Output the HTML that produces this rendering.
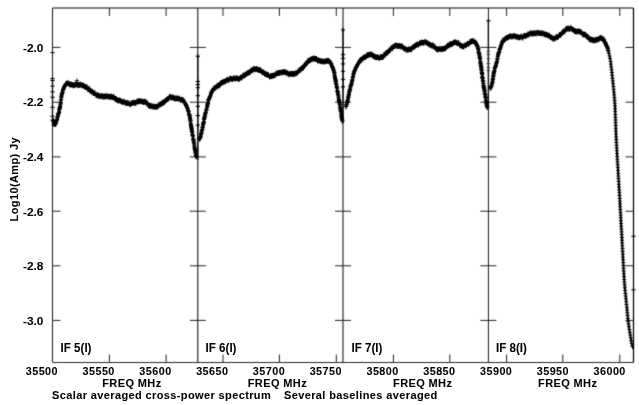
<!DOCTYPE html>
<html><head><meta charset="utf-8"><style>
html,body{margin:0;padding:0;background:#fff;width:639px;height:405px;overflow:hidden}
svg{display:block}
#w{will-change:transform;width:639px;height:405px}
text{font-family:"Liberation Sans", sans-serif;font-weight:bold;stroke:#000;stroke-width:0.05px}
</style></head><body><div id="w">
<svg width="639" height="405" viewBox="0 0 639 405">
<defs><filter id="bl" x="0" y="0" width="639" height="405" filterUnits="userSpaceOnUse" color-interpolation-filters="sRGB"><feConvolveMatrix order="3" kernelMatrix="1 3 1 3 20 3 1 3 1" divisor="36" edgeMode="duplicate"/></filter></defs>
<g filter="url(#bl)"><rect width="639" height="405" fill="#fff"/>
<g stroke="#202020" stroke-width="1" fill="none">
<line x1="52.5" y1="8.0" x2="52.5" y2="362.5" stroke="#181818"/>
<line x1="633.5" y1="8.0" x2="633.5" y2="362.5" stroke="#000" stroke-width="1.25"/>
<line x1="52.5" y1="8.0" x2="633.5" y2="8.0" stroke="#000"/>
<line x1="52.5" y1="362.5" x2="633.5" y2="362.5" stroke="#282828"/>
<line x1="197.8" y1="8.0" x2="197.8" y2="362.5" stroke="#000"/>
<line x1="343.0" y1="8.0" x2="343.0" y2="362.5" stroke="#000"/>
<line x1="488.4" y1="8.0" x2="488.4" y2="362.5" stroke="#181818"/>
<line x1="109.4" y1="8.0" x2="109.4" y2="16.0"/>
<line x1="109.4" y1="362.5" x2="109.4" y2="354.5"/>
<line x1="166.1" y1="8.0" x2="166.1" y2="16.0"/>
<line x1="166.1" y1="362.5" x2="166.1" y2="354.5"/>
<line x1="223.0" y1="8.0" x2="223.0" y2="16.0"/>
<line x1="223.0" y1="362.5" x2="223.0" y2="354.5"/>
<line x1="279.4" y1="8.0" x2="279.4" y2="16.0"/>
<line x1="279.4" y1="362.5" x2="279.4" y2="354.5"/>
<line x1="336.3" y1="8.0" x2="336.3" y2="16.0"/>
<line x1="336.3" y1="362.5" x2="336.3" y2="354.5"/>
<line x1="393.4" y1="8.0" x2="393.4" y2="16.0"/>
<line x1="393.4" y1="362.5" x2="393.4" y2="354.5"/>
<line x1="449.8" y1="8.0" x2="449.8" y2="16.0"/>
<line x1="449.8" y1="362.5" x2="449.8" y2="354.5"/>
<line x1="506.6" y1="8.0" x2="506.6" y2="16.0"/>
<line x1="506.6" y1="362.5" x2="506.6" y2="354.5"/>
<line x1="562.8" y1="8.0" x2="562.8" y2="16.0"/>
<line x1="562.8" y1="362.5" x2="562.8" y2="354.5"/>
<line x1="619.8" y1="8.0" x2="619.8" y2="16.0"/>
<line x1="619.8" y1="362.5" x2="619.8" y2="354.5"/>
<line x1="52.5" y1="47.4" x2="60.5" y2="47.4"/>
<line x1="633.5" y1="47.4" x2="625.5" y2="47.4"/>
<line x1="189.8" y1="47.4" x2="205.8" y2="47.4"/>
<line x1="335.0" y1="47.4" x2="351.0" y2="47.4"/>
<line x1="480.4" y1="47.4" x2="496.4" y2="47.4"/>
<line x1="52.5" y1="102.2" x2="60.5" y2="102.2"/>
<line x1="633.5" y1="102.2" x2="625.5" y2="102.2"/>
<line x1="189.8" y1="102.2" x2="205.8" y2="102.2"/>
<line x1="335.0" y1="102.2" x2="351.0" y2="102.2"/>
<line x1="480.4" y1="102.2" x2="496.4" y2="102.2"/>
<line x1="52.5" y1="156.9" x2="60.5" y2="156.9"/>
<line x1="633.5" y1="156.9" x2="625.5" y2="156.9"/>
<line x1="189.8" y1="156.9" x2="205.8" y2="156.9"/>
<line x1="335.0" y1="156.9" x2="351.0" y2="156.9"/>
<line x1="480.4" y1="156.9" x2="496.4" y2="156.9"/>
<line x1="52.5" y1="211.2" x2="60.5" y2="211.2"/>
<line x1="633.5" y1="211.2" x2="625.5" y2="211.2"/>
<line x1="189.8" y1="211.2" x2="205.8" y2="211.2"/>
<line x1="335.0" y1="211.2" x2="351.0" y2="211.2"/>
<line x1="480.4" y1="211.2" x2="496.4" y2="211.2"/>
<line x1="52.5" y1="265.8" x2="60.5" y2="265.8"/>
<line x1="633.5" y1="265.8" x2="625.5" y2="265.8"/>
<line x1="189.8" y1="265.8" x2="205.8" y2="265.8"/>
<line x1="335.0" y1="265.8" x2="351.0" y2="265.8"/>
<line x1="480.4" y1="265.8" x2="496.4" y2="265.8"/>
<line x1="52.5" y1="320.4" x2="60.5" y2="320.4"/>
<line x1="633.5" y1="320.4" x2="625.5" y2="320.4"/>
<line x1="189.8" y1="320.4" x2="205.8" y2="320.4"/>
<line x1="335.0" y1="320.4" x2="351.0" y2="320.4"/>
<line x1="480.4" y1="320.4" x2="496.4" y2="320.4"/>
</g>
<g stroke="#111" stroke-width="1.4" fill="none">
<line x1="52.5" y1="78" x2="52.5" y2="126"/>
<line x1="197.8" y1="56" x2="197.8" y2="160"/>
<line x1="343.0" y1="30" x2="343.0" y2="123"/>
<line x1="488.4" y1="20.5" x2="488.4" y2="109"/>
</g>
<polyline points="53.3,121.0 53.3,121.1 53.4,121.4 53.5,121.8 53.7,122.3 53.8,122.9 54.0,123.5 54.2,124.0" stroke="#000" stroke-width="2.2" fill="none" stroke-linejoin="round" stroke-linecap="round"/>
<polyline points="54.2,124.0 54.4,124.4 54.6,124.7 54.8,124.8 55.1,124.6 55.4,124.1 55.8,123.2" stroke="#000" stroke-width="3.3" fill="none" stroke-linejoin="round" stroke-linecap="round"/>
<polyline points="55.8,123.2 56.2,122.2 56.6,121.0 56.9,119.7 57.3,118.4 57.7,117.0 58.0,115.8 58.3,114.7 58.6,113.7 58.8,112.7 59.0,111.7 59.2,110.8 59.4,109.8 59.6,108.8 59.8,107.8 60.0,106.8 60.1,105.9 60.3,104.9 60.5,104.0 60.6,103.0 60.7,102.1 60.9,101.2 61.0,100.2 61.1,99.3 61.2,98.4 61.3,97.6 61.5,96.8 61.6,96.0 61.7,95.5 61.8,95.1 61.9,94.6 62.0,94.2 62.1,93.8 62.2,93.4 62.3,93.0 62.4,92.6 62.5,92.2 62.6,91.8 62.7,91.3 62.8,90.9 63.0,90.4 63.1,89.9 63.2,89.5 63.4,89.0 63.5,88.6 63.7,88.1 63.8,87.7" stroke="#000" stroke-width="2.2" fill="none" stroke-linejoin="round" stroke-linecap="round"/>
<polyline points="63.8,87.7 64.0,87.3 64.2,87.0 64.3,86.7 64.5,86.4 64.7,86.1 64.9,85.8 65.0,85.5 65.2,85.2 65.5,85.0 65.7,84.8 65.9,84.6 66.1,84.4 66.3,84.3 66.5,84.2 66.8,84.1 67.0,84.0 67.2,83.9 67.5,83.8 67.7,83.8 68.0,83.7 68.2,83.7 68.5,83.7 68.7,83.8 69.0,83.8 69.3,83.9 69.6,84.0 69.9,84.2 70.2,84.3 70.5,84.4 70.7,84.5 71.0,84.6 71.2,84.7 71.4,84.8 71.6,84.8 71.8,84.9 72.0,85.0 72.2,85.1 72.4,85.2 72.6,85.2 72.8,85.3 73.0,85.3 73.3,85.3 73.7,85.3 74.1,85.2 74.5,85.1 74.9,85.0 75.3,84.9 75.8,84.8 76.2,84.7 76.6,84.6 77.0,84.6 77.4,84.6 77.8,84.6 78.2,84.6 78.6,84.6 79.0,84.7 79.3,84.7 79.7,84.8 80.1,84.8 80.5,84.9 80.9,85.0 81.3,85.1 81.7,85.2 82.1,85.3 82.5,85.4 82.9,85.5 83.3,85.6 83.7,85.8 84.1,85.9 84.5,86.1 84.9,86.3 85.4,86.6 85.9,86.9 86.4,87.3 86.9,87.7 87.3,88.1 87.8,88.5 88.3,89.0 88.8,89.4 89.3,89.8 89.8,90.2 90.3,90.6 90.8,91.0 91.3,91.3 91.7,91.7 92.2,92.1 92.7,92.5 93.2,92.8 93.7,93.2 94.2,93.5 94.7,93.8 95.2,94.1 95.7,94.3 96.2,94.5 96.7,94.8 97.2,95.0 97.7,95.2 98.2,95.3 98.7,95.5 99.2,95.7 99.7,95.8 100.2,95.9 100.7,96.0 101.2,96.1 101.7,96.2 102.1,96.2 102.6,96.3 103.1,96.3 103.6,96.4 104.1,96.4 104.6,96.4 105.1,96.4 105.6,96.4 106.1,96.3 106.6,96.3 107.1,96.2 107.5,96.2 108.0,96.1 108.5,96.1 109.0,96.1 109.5,96.2 110.0,96.3 110.5,96.4 111.0,96.6 111.5,96.8 112.0,97.0 112.5,97.2 113.0,97.4 113.5,97.6 114.0,97.9 114.5,98.1 115.0,98.3 115.5,98.6 116.0,98.8 116.5,99.1 116.9,99.3 117.4,99.6 117.9,99.9 118.4,100.1 118.9,100.4 119.4,100.6 119.9,100.8 120.5,101.1 121.1,101.3 121.6,101.6 122.2,101.8 122.8,102.0 123.4,102.2 123.9,102.4 124.5,102.6 125.0,102.8 125.4,103.0 125.9,103.1 126.3,103.3 126.7,103.4 127.1,103.6 127.5,103.7 127.9,103.8 128.3,103.9 128.7,104.0 129.1,104.0 129.5,104.0 129.9,104.0 130.3,103.9 130.7,103.8 131.2,103.7 131.6,103.6 132.0,103.5 132.4,103.4 132.8,103.3 133.2,103.2 133.6,103.1 134.0,103.0 134.4,102.9 134.8,102.7 135.2,102.6 135.6,102.5 136.0,102.4 136.4,102.2 136.8,102.1 137.2,102.0 137.6,101.9 137.9,101.7 138.3,101.6 138.6,101.5 139.0,101.3 139.3,101.2 139.7,101.1 140.1,101.0 140.4,100.9 140.8,100.9 141.2,100.9 141.7,101.0 142.2,101.0 142.6,101.1 143.1,101.3 143.6,101.4 144.1,101.6 144.5,101.8 145.0,102.0 145.4,102.2 145.8,102.5 146.3,102.8 146.7,103.1 147.1,103.5 147.5,103.8 147.9,104.2 148.3,104.6 148.7,104.9 149.1,105.2 149.5,105.5 149.9,105.7 150.3,106.0 150.7,106.2 151.2,106.4 151.6,106.6 152.0,106.7 152.5,106.9 152.9,107.0 153.3,107.1 153.8,107.1 154.3,107.1 154.8,107.0 155.4,107.0 155.9,106.8 156.5,106.7 157.0,106.5 157.6,106.3 158.1,106.1 158.6,105.8 159.1,105.6 159.6,105.3 160.0,105.1 160.4,104.8 160.8,104.4 161.2,104.1 161.6,103.8 162.0,103.4 162.4,103.1 162.8,102.7 163.2,102.4 163.6,102.1 164.0,101.7 164.4,101.4 164.8,101.1 165.2,100.8 165.6,100.4 166.0,100.1 166.4,99.8 166.8,99.5 167.2,99.2 167.6,98.9 168.0,98.6 168.4,98.3 168.8,98.1 169.2,97.8 169.6,97.5 170.0,97.3 170.5,97.1 170.9,97.0 171.3,96.9 171.7,96.9 172.1,96.9 172.5,97.0 172.9,97.1 173.3,97.3 173.8,97.5 174.2,97.6 174.6,97.8 175.0,98.0 175.4,98.1 175.8,98.2 176.2,98.3 176.6,98.4 177.1,98.5 177.5,98.7 177.9,98.8 178.3,98.9 178.7,99.0 179.1,99.2 179.5,99.3 179.9,99.5 180.3,99.6 180.7,99.8 181.2,99.9 181.6,100.1 182.0,100.3 182.4,100.5 182.7,100.7 183.1,100.9 183.4,101.2 183.7,101.5 183.9,101.8 184.2,102.1 184.4,102.4 184.6,102.7 184.8,103.1 185.0,103.4 185.2,103.8 185.4,104.1 185.6,104.5 185.8,104.9 186.0,105.4 186.2,105.8 186.5,106.3 186.7,106.8" stroke="#000" stroke-width="3.3" fill="none" stroke-linejoin="round" stroke-linecap="round"/>
<polyline points="186.7,106.8 186.8,107.3 187.0,107.8 187.2,108.3 187.4,108.8 187.6,109.3 187.8,109.8 188.0,110.4 188.2,110.9 188.4,111.4 188.6,112.0 188.7,112.5 188.9,113.1 189.1,113.6 189.2,114.2 189.4,114.8 189.6,115.5 189.7,116.2 189.8,116.9 190.0,117.7 190.1,118.4 190.2,119.2 190.3,119.9 190.4,120.7 190.5,121.5 190.6,122.2 190.7,122.9 190.8,123.7 190.9,124.4 191.0,125.1 191.1,125.9 191.2,126.6 191.3,127.4 191.4,128.1 191.5,128.8 191.6,129.6 191.7,130.4 191.9,131.2 192.0,132.0 192.2,132.9 192.3,133.7 192.5,134.5 192.6,135.3 192.8,136.2 192.9,137.0 193.1,137.9 193.3,138.8 193.4,139.8 193.6,140.8 193.7,141.8 193.9,142.7 194.1,143.7 194.2,144.7 194.4,145.7 194.5,146.7 194.7,147.7 194.9,148.8 195.1,150.0 195.3,151.3 195.5,152.6 195.7,153.8 195.9,155.0 196.1,156.0 196.2,156.8 196.3,157.3 196.3,157.5" stroke="#000" stroke-width="2.2" fill="none" stroke-linejoin="round" stroke-linecap="round"/>
<path d="M51.2 120.8h4.2M53.3 117.9v5.8M51.6 121.9h4.2M53.7 119.0v5.8M52.0 123.9h4.2M54.1 121.0v5.8M52.7 124.2h4.2M54.8 121.3v5.8M53.5 123.7h4.2M55.6 120.8v5.8M54.0 122.2h4.2M56.1 119.3v5.8M54.5 120.4h4.2M56.6 117.5v5.8M54.9 119.7h4.2M57.0 116.8v5.8M55.2 117.7h4.2M57.3 114.8v5.8M55.6 116.9h4.2M57.7 114.0v5.8M56.0 115.0h4.2M58.1 112.1v5.8M56.3 113.7h4.2M58.4 110.8v5.8M56.7 112.8h4.2M58.8 109.9v5.8M57.0 112.0h4.2M59.1 109.1v5.8M57.2 109.6h4.2M59.3 106.7v5.8M57.5 108.4h4.2M59.6 105.5v5.8M57.8 107.6h4.2M59.9 104.7v5.8M58.0 106.7h4.2M60.1 103.8v5.8M58.2 104.8h4.2M60.3 101.9v5.8M58.5 103.1h4.2M60.6 100.2v5.8M58.7 102.6h4.2M60.8 99.7v5.8M58.8 99.9h4.2M60.9 97.0v5.8M59.0 99.6h4.2M61.1 96.7v5.8M59.2 97.4h4.2M61.3 94.5v5.8M59.4 95.9h4.2M61.5 93.0v5.8M59.7 94.4h4.2M61.8 91.5v5.8M60.0 93.3h4.2M62.1 90.4v5.8M60.4 92.7h4.2M62.5 89.8v5.8M60.7 90.5h4.2M62.8 87.6v5.8M61.1 89.7h4.2M63.2 86.8v5.8M61.5 88.4h4.2M63.6 85.5v5.8M62.1 86.8h4.2M64.2 83.9v5.8M62.8 85.8h4.2M64.9 82.9v5.8M63.7 84.1h4.2M65.8 81.2v5.8M64.9 83.3h4.2M67.0 80.4v5.8M66.3 83.3h4.2M68.4 80.4v5.8M67.6 84.3h4.2M69.7 81.4v5.8M68.9 84.5h4.2M71.0 81.6v5.8M70.2 84.9h4.2M72.3 82.0v5.8M71.6 85.4h4.2M73.7 82.5v5.8M72.9 84.9h4.2M75.0 82.0v5.8M74.3 84.4h4.2M76.4 81.5v5.8M75.7 85.0h4.2M77.8 82.1v5.8M77.1 85.0h4.2M79.2 82.1v5.8M78.5 84.6h4.2M80.6 81.7v5.8M79.9 85.3h4.2M82.0 82.4v5.8M81.2 85.6h4.2M83.3 82.7v5.8M82.5 86.7h4.2M84.6 83.8v5.8M83.7 87.2h4.2M85.8 84.3v5.8M84.8 87.4h4.2M86.9 84.5v5.8M85.9 89.3h4.2M88.0 86.4v5.8M86.9 89.0h4.2M89.0 86.1v5.8M88.0 90.3h4.2M90.1 87.4v5.8M89.1 91.7h4.2M91.2 88.8v5.8M90.2 91.7h4.2M92.3 88.8v5.8M91.3 93.0h4.2M93.4 90.1v5.8M92.5 93.1h4.2M94.6 90.2v5.8M93.8 94.6h4.2M95.9 91.7v5.8M95.0 95.3h4.2M97.1 92.4v5.8M96.3 95.5h4.2M98.4 92.6v5.8M97.7 96.3h4.2M99.8 93.4v5.8M99.1 95.8h4.2M101.2 92.9v5.8M100.5 96.5h4.2M102.6 93.6v5.8M101.9 96.5h4.2M104.0 93.6v5.8M103.2 96.5h4.2M105.3 93.6v5.8M104.6 96.2h4.2M106.7 93.3v5.8M106.0 96.6h4.2M108.1 93.7v5.8M107.4 96.8h4.2M109.5 93.9v5.8M108.8 96.5h4.2M110.9 93.6v5.8M110.1 97.3h4.2M112.2 94.4v5.8M111.4 97.0h4.2M113.5 94.1v5.8M112.6 98.5h4.2M114.7 95.6v5.8M113.9 99.0h4.2M116.0 96.1v5.8M115.1 100.2h4.2M117.2 97.3v5.8M116.4 100.6h4.2M118.5 97.7v5.8M117.6 100.4h4.2M119.7 97.5v5.8M118.9 101.1h4.2M121.0 98.2v5.8M120.2 102.1h4.2M122.3 99.2v5.8M121.5 101.6h4.2M123.6 98.7v5.8M122.9 102.7h4.2M125.0 99.8v5.8M124.2 102.8h4.2M126.3 99.9v5.8M125.5 103.2h4.2M127.6 100.3v5.8M126.9 103.4h4.2M129.0 100.5v5.8M128.3 104.3h4.2M130.4 101.4v5.8M129.6 103.1h4.2M131.7 100.2v5.8M131.0 102.9h4.2M133.1 100.0v5.8M132.3 102.7h4.2M134.4 99.8v5.8M133.7 103.0h4.2M135.8 100.1v5.8M135.0 101.4h4.2M137.1 98.5v5.8M136.3 101.5h4.2M138.4 98.6v5.8M137.6 101.1h4.2M139.7 98.2v5.8M139.0 101.4h4.2M141.1 98.5v5.8M140.4 101.6h4.2M142.5 98.7v5.8M141.7 102.0h4.2M143.8 99.1v5.8M143.0 101.7h4.2M145.1 98.8v5.8M144.2 102.7h4.2M146.3 99.8v5.8M145.2 103.5h4.2M147.3 100.6v5.8M146.3 105.2h4.2M148.4 102.3v5.8M147.4 106.1h4.2M149.5 103.2v5.8M148.6 105.7h4.2M150.7 102.8v5.8M149.9 106.3h4.2M152.0 103.4v5.8M151.3 106.7h4.2M153.4 103.8v5.8M152.7 106.7h4.2M154.8 103.8v5.8M154.0 106.8h4.2M156.1 103.9v5.8M155.4 106.5h4.2M157.5 103.6v5.8M156.6 105.4h4.2M158.7 102.5v5.8M157.9 104.4h4.2M160.0 101.5v5.8M159.0 104.1h4.2M161.1 101.2v5.8M160.0 103.1h4.2M162.1 100.2v5.8M161.1 102.5h4.2M163.2 99.6v5.8M162.2 102.1h4.2M164.3 99.2v5.8M163.3 100.9h4.2M165.4 98.0v5.8M164.3 99.8h4.2M166.4 96.9v5.8M165.5 99.1h4.2M167.6 96.2v5.8M166.6 98.4h4.2M168.7 95.5v5.8M167.8 96.7h4.2M169.9 93.8v5.8M169.1 97.5h4.2M171.2 94.6v5.8M170.5 97.4h4.2M172.6 94.5v5.8M171.8 98.1h4.2M173.9 95.2v5.8M173.1 98.5h4.2M175.2 95.6v5.8M174.5 98.3h4.2M176.6 95.4v5.8M175.8 98.6h4.2M177.9 95.7v5.8M177.2 98.7h4.2M179.3 95.8v5.8M178.5 99.9h4.2M180.6 97.0v5.8M179.8 99.6h4.2M181.9 96.7v5.8M181.0 100.3h4.2M183.1 97.4v5.8M182.0 101.5h4.2M184.1 98.6v5.8M182.7 102.6h4.2M184.8 99.7v5.8M183.4 104.1h4.2M185.5 101.2v5.8M184.0 104.9h4.2M186.1 102.0v5.8M184.6 106.2h4.2M186.7 103.3v5.8M185.1 107.7h4.2M187.2 104.8v5.8M185.6 108.9h4.2M187.7 106.0v5.8M186.0 110.6h4.2M188.1 107.7v5.8M186.5 111.4h4.2M188.6 108.5v5.8M186.9 114.0h4.2M189.0 111.1v5.8M187.3 115.0h4.2M189.4 112.1v5.8M187.6 115.7h4.2M189.7 112.8v5.8M187.8 117.2h4.2M189.9 114.3v5.8M188.0 118.7h4.2M190.1 115.8v5.8M188.2 120.1h4.2M190.3 117.2v5.8M188.4 121.2h4.2M190.5 118.3v5.8M188.6 123.6h4.2M190.7 120.7v5.8M188.8 125.2h4.2M190.9 122.3v5.8M189.0 125.8h4.2M191.1 122.9v5.8M189.2 127.2h4.2M191.3 124.3v5.8M189.4 128.1h4.2M191.5 125.2v5.8M189.6 129.5h4.2M191.7 126.6v5.8M189.8 131.2h4.2M191.9 128.3v5.8M190.1 132.4h4.2M192.2 129.5v5.8M190.3 134.6h4.2M192.4 131.7v5.8M190.6 135.1h4.2M192.7 132.2v5.8M190.8 136.2h4.2M192.9 133.3v5.8M191.1 138.9h4.2M193.2 136.0v5.8M191.3 139.7h4.2M193.4 136.8v5.8M191.5 140.6h4.2M193.6 137.7v5.8M191.8 142.5h4.2M193.9 139.6v5.8M192.0 143.1h4.2M194.1 140.2v5.8M192.2 145.2h4.2M194.3 142.3v5.8M192.4 147.2h4.2M194.5 144.3v5.8M192.6 148.5h4.2M194.7 145.6v5.8M192.9 149.6h4.2M195.0 146.7v5.8M193.1 150.4h4.2M195.2 147.5v5.8M193.3 151.9h4.2M195.4 149.0v5.8M193.5 153.0h4.2M195.6 150.1v5.8M193.8 155.2h4.2M195.9 152.3v5.8M194.0 156.3h4.2M196.1 153.4v5.8" stroke="#000" stroke-width="1.3" fill="none"/>
<polyline points="199.6,139.0 199.6,138.9 199.7,138.8 199.8,138.5 199.9,138.2 200.1,137.9 200.2,137.5 200.4,137.1" stroke="#000" stroke-width="3.3" fill="none" stroke-linejoin="round" stroke-linecap="round"/>
<polyline points="200.4,137.1 200.6,136.7 200.7,136.3 200.8,136.0 200.9,135.7 201.0,135.4 201.0,135.1 201.1,134.8 201.1,134.5 201.2,134.2 201.2,133.8 201.3,133.5 201.3,133.2 201.4,132.9 201.5,132.6 201.5,132.3 201.6,132.0 201.7,131.7 201.8,131.3 201.9,131.0 201.9,130.7 202.0,130.3 202.1,130.0 202.2,129.6 202.3,129.0 202.5,128.3 202.6,127.6 202.8,126.9 202.9,126.1 203.1,125.3 203.3,124.5 203.4,123.7 203.6,123.0 203.7,122.2 203.8,121.5 204.0,120.7 204.1,120.0 204.2,119.2 204.3,118.5 204.4,117.8 204.6,117.0 204.7,116.3 204.8,115.5 205.0,114.8 205.2,114.1 205.4,113.3 205.6,112.6 205.8,111.8 206.0,111.1 206.3,110.3 206.5,109.6 206.7,108.9 206.9,108.1 207.1,107.4 207.3,106.7 207.4,106.0 207.5,105.3 207.6,104.6 207.7,103.9 207.8,103.2 207.9,102.5 208.1,101.8 208.2,101.1 208.4,100.5 208.6,100.0 208.8,99.4 209.0,98.9" stroke="#000" stroke-width="2.2" fill="none" stroke-linejoin="round" stroke-linecap="round"/>
<polyline points="209.0,98.9 209.2,98.4 209.4,98.0 209.6,97.5 209.8,97.0 210.1,96.5 210.3,96.0 210.5,95.5 210.7,94.9" stroke="#000" stroke-width="3.3" fill="none" stroke-linejoin="round" stroke-linecap="round"/>
<polyline points="210.7,94.9 210.9,94.4 211.2,93.8 211.4,93.2 211.6,92.6 211.8,92.0" stroke="#000" stroke-width="2.2" fill="none" stroke-linejoin="round" stroke-linecap="round"/>
<polyline points="211.8,92.0 212.1,91.4 212.3,90.8 212.7,90.3 213.0,89.8 213.4,89.3 213.8,88.9 214.2,88.5 214.7,88.1 215.2,87.8 215.7,87.4 216.2,87.1 216.7,86.7 217.2,86.4 217.7,86.0 218.2,85.6 218.7,85.2 219.2,84.8 219.7,84.4 220.1,84.0 220.6,83.6 221.1,83.3 221.7,82.9 222.2,82.5 222.7,82.2 223.2,81.9 223.8,81.6 224.3,81.3 224.9,81.0 225.5,80.7 226.0,80.5 226.6,80.2 227.2,80.0 227.7,79.8 228.3,79.6 228.8,79.4 229.3,79.3 229.8,79.2 230.3,79.1 230.8,79.0 231.4,78.9 231.9,78.9 232.4,78.8 232.9,78.8 233.4,78.7 233.9,78.7 234.4,78.7 234.9,78.7 235.5,78.7 236.0,78.8 236.5,78.8 237.0,78.8 237.5,78.8 238.0,78.7 238.5,78.6 239.0,78.4 239.5,78.2 240.1,77.9 240.6,77.6 241.1,77.3 241.6,77.0 242.1,76.6 242.6,76.3 243.1,75.9 243.6,75.6 244.1,75.3 244.7,74.9 245.2,74.6 245.7,74.2 246.3,73.9 246.8,73.5 247.3,73.2 247.8,72.8 248.3,72.5 248.8,72.2 249.1,72.0 249.5,71.7 249.8,71.5 250.1,71.3 250.4,71.1 250.7,70.8 251.0,70.6 251.3,70.5 251.6,70.3 252.0,70.1 252.5,69.9 253.0,69.7 253.5,69.5 254.0,69.3 254.6,69.1 255.2,69.0 255.7,68.8 256.3,68.8 256.8,68.8 257.3,68.8 257.8,68.9 258.2,69.1 258.6,69.3 259.0,69.6 259.4,69.9 259.8,70.2 260.3,70.5 260.7,70.9 261.1,71.2 261.5,71.5 262.0,71.8 262.4,72.1 262.9,72.5 263.3,72.8 263.8,73.2 264.3,73.5 264.8,73.8 265.2,74.1 265.7,74.4 266.2,74.7 266.7,74.9 267.1,75.2 267.6,75.5 268.1,75.7 268.6,75.9 269.1,76.1 269.6,76.3 270.0,76.4 270.5,76.5 271.0,76.5 271.5,76.4 271.9,76.3 272.4,76.2 272.9,76.0 273.4,75.7 273.8,75.4 274.3,75.2 274.8,74.9 275.2,74.6 275.7,74.4 276.2,74.2 276.7,73.9 277.2,73.6 277.7,73.3 278.2,73.0 278.6,72.8 279.1,72.5 279.6,72.3 280.1,72.1 280.5,72.0 280.8,71.9 281.1,71.9 281.4,71.9 281.7,71.9 282.0,71.9 282.3,71.9 282.6,71.9 282.9,71.9 283.2,72.0 283.5,72.0 283.9,72.1 284.3,72.1 284.6,72.2 285.0,72.3 285.4,72.4 285.8,72.5 286.2,72.6 286.7,72.8 287.1,72.9 287.5,73.0 288.0,73.2 288.5,73.3 289.0,73.5 289.6,73.8 290.1,74.0 290.7,74.2 291.2,74.3 291.8,74.4 292.3,74.5 292.8,74.5 293.3,74.4 293.8,74.3 294.3,74.2 294.8,74.0 295.3,73.7 295.8,73.5 296.2,73.2 296.7,72.9 297.2,72.6 297.6,72.3 298.0,72.0 298.5,71.7 298.9,71.3 299.3,70.9 299.7,70.5 300.1,70.2 300.5,69.8 300.9,69.3 301.3,68.9 301.7,68.5 302.2,68.0 302.6,67.5 303.1,67.0 303.6,66.4 304.1,65.9 304.5,65.3 305.0,64.8 305.5,64.2 306.0,63.7 306.5,63.2 307.0,62.7 307.5,62.1 308.0,61.6 308.5,61.0 309.0,60.5 309.6,60.0 310.1,59.5 310.6,59.1 311.1,58.8 311.6,58.6 312.0,58.5 312.3,58.5 312.6,58.4 313.0,58.5 313.3,58.5 313.7,58.6 314.0,58.7 314.4,58.8 314.7,58.9 315.1,59.0 315.6,59.2 316.0,59.4 316.5,59.6 317.0,59.9 317.5,60.2 317.9,60.5 318.4,60.8 318.9,61.0 319.4,61.2 319.9,61.4 320.4,61.5 320.8,61.6 321.3,61.7 321.8,61.8 322.3,61.8 322.7,61.9 323.2,61.9 323.7,61.9 324.1,61.9 324.6,61.9 325.0,61.9 325.5,61.8 325.9,61.7 326.3,61.6 326.8,61.5 327.2,61.5 327.6,61.4 328.0,61.4 328.4,61.4 328.7,61.5 329.0,61.6 329.3,61.8 329.5,62.0 329.8,62.3 330.0,62.5 330.2,62.8 330.4,63.1 330.6,63.4 330.8,63.7 331.0,64.0 331.2,64.3 331.4,64.7 331.6,65.0 331.8,65.4 331.9,65.8 332.1,66.2" stroke="#000" stroke-width="3.3" fill="none" stroke-linejoin="round" stroke-linecap="round"/>
<polyline points="332.1,66.2 332.2,66.6 332.4,67.0 332.5,67.4 332.7,67.8 332.9,68.2 333.0,68.7 333.2,69.1 333.3,69.6 333.4,70.0 333.6,70.5 333.7,70.9 333.8,71.4 334.0,72.0 334.1,72.5 334.3,73.3 334.5,74.2 334.6,75.1 334.8,76.0 335.0,77.0 335.1,78.0 335.3,79.0 335.5,80.0 335.6,81.0 335.8,82.0 336.0,83.0 336.2,84.0 336.4,85.0 336.5,86.0 336.7,87.1 336.9,88.1 337.1,89.1 337.3,90.2 337.5,91.2 337.7,92.3 337.9,93.5 338.1,94.7 338.3,95.9 338.5,97.2 338.8,98.4 339.0,99.7 339.2,100.9 339.4,102.2 339.6,103.5 339.8,104.7 340.0,106.0 340.2,107.3 340.4,108.6 340.6,109.9 340.8,111.3 341.0,112.6 341.2,113.8 341.4,115.0 341.5,116.0 341.7,117.0 341.8,117.5 341.9,118.1 342.0,118.6 342.1,119.1 342.2,119.6 342.3,120.1 342.4,120.5 342.4,120.7 342.5,120.9 342.5,121.0" stroke="#000" stroke-width="2.2" fill="none" stroke-linejoin="round" stroke-linecap="round"/>
<path d="M197.5 138.8h4.2M199.6 135.9v5.8M198.1 137.2h4.2M200.2 134.3v5.8M198.6 136.6h4.2M200.7 133.7v5.8M198.9 134.5h4.2M201.0 131.6v5.8M199.2 133.7h4.2M201.3 130.8v5.8M199.4 132.1h4.2M201.5 129.2v5.8M199.8 130.3h4.2M201.9 127.4v5.8M200.1 129.6h4.2M202.2 126.7v5.8M200.4 127.6h4.2M202.5 124.7v5.8M200.7 126.8h4.2M202.8 123.9v5.8M201.0 124.9h4.2M203.1 122.0v5.8M201.2 123.5h4.2M203.3 120.6v5.8M201.5 122.6h4.2M203.6 119.7v5.8M201.8 121.8h4.2M203.9 118.9v5.8M202.0 119.4h4.2M204.1 116.5v5.8M202.2 118.2h4.2M204.3 115.3v5.8M202.4 117.4h4.2M204.5 114.5v5.8M202.7 116.5h4.2M204.8 113.6v5.8M203.0 114.6h4.2M205.1 111.7v5.8M203.3 113.0h4.2M205.4 110.1v5.8M203.7 112.4h4.2M205.8 109.5v5.8M204.1 109.8h4.2M206.2 106.9v5.8M204.6 109.6h4.2M206.7 106.7v5.8M204.9 107.4h4.2M207.0 104.5v5.8M205.2 105.9h4.2M207.3 103.0v5.8M205.4 104.5h4.2M207.5 101.6v5.8M205.7 103.3h4.2M207.8 100.4v5.8M205.9 102.7h4.2M208.0 99.8v5.8M206.2 100.4h4.2M208.3 97.5v5.8M206.6 99.6h4.2M208.7 96.7v5.8M207.2 98.4h4.2M209.3 95.5v5.8M207.7 96.8h4.2M209.8 93.9v5.8M208.3 95.8h4.2M210.4 92.9v5.8M208.8 93.8h4.2M210.9 90.9v5.8M209.3 92.4h4.2M211.4 89.5v5.8M209.8 91.3h4.2M211.9 88.4v5.8M210.4 90.8h4.2M212.5 87.9v5.8M211.3 89.3h4.2M213.4 86.4v5.8M212.3 88.2h4.2M214.4 85.3v5.8M213.4 87.7h4.2M215.5 84.8v5.8M214.5 86.7h4.2M216.6 83.8v5.8M215.7 85.7h4.2M217.8 82.8v5.8M216.8 85.5h4.2M218.9 82.6v5.8M217.8 84.5h4.2M219.9 81.6v5.8M218.9 83.0h4.2M221.0 80.1v5.8M220.1 82.6h4.2M222.2 79.7v5.8M221.3 81.8h4.2M223.4 78.9v5.8M222.5 81.7h4.2M224.6 78.8v5.8M223.8 80.8h4.2M225.9 77.9v5.8M225.1 79.7h4.2M227.2 76.8v5.8M226.4 80.2h4.2M228.5 77.3v5.8M227.8 78.7h4.2M229.9 75.8v5.8M229.1 78.8h4.2M231.2 75.9v5.8M230.5 79.1h4.2M232.6 76.2v5.8M231.9 78.2h4.2M234.0 75.3v5.8M233.3 78.7h4.2M235.4 75.8v5.8M234.7 78.1h4.2M236.8 75.2v5.8M236.1 78.9h4.2M238.2 76.0v5.8M237.4 78.6h4.2M239.5 75.7v5.8M238.6 77.6h4.2M240.7 74.7v5.8M239.8 77.3h4.2M241.9 74.4v5.8M241.0 75.7h4.2M243.1 72.8v5.8M242.1 75.5h4.2M244.2 72.6v5.8M243.3 74.6h4.2M245.4 71.7v5.8M244.5 73.8h4.2M246.6 70.9v5.8M245.7 72.8h4.2M247.8 69.9v5.8M246.8 72.6h4.2M248.9 69.7v5.8M248.0 71.9h4.2M250.1 69.0v5.8M249.1 70.5h4.2M251.2 67.6v5.8M250.4 70.1h4.2M252.5 67.2v5.8M251.7 68.8h4.2M253.8 65.9v5.8M253.0 69.3h4.2M255.1 66.4v5.8M254.4 69.0h4.2M256.5 66.1v5.8M255.8 69.6h4.2M257.9 66.7v5.8M257.0 70.1h4.2M259.1 67.2v5.8M258.1 70.2h4.2M260.2 67.3v5.8M259.2 71.2h4.2M261.3 68.3v5.8M260.3 72.4h4.2M262.4 69.5v5.8M261.5 72.3h4.2M263.6 69.4v5.8M262.6 73.7h4.2M264.7 70.8v5.8M263.8 74.1h4.2M265.9 71.2v5.8M265.0 74.7h4.2M267.1 71.8v5.8M266.3 75.2h4.2M268.4 72.3v5.8M267.6 76.7h4.2M269.7 73.8v5.8M269.0 76.0h4.2M271.1 73.1v5.8M270.3 75.8h4.2M272.4 72.9v5.8M271.6 75.4h4.2M273.7 72.5v5.8M272.8 75.3h4.2M274.9 72.4v5.8M274.0 73.6h4.2M276.1 70.7v5.8M275.3 73.4h4.2M277.4 70.5v5.8M276.5 72.9h4.2M278.6 70.0v5.8M277.7 72.8h4.2M279.8 69.9v5.8M279.1 72.3h4.2M281.2 69.4v5.8M280.5 72.4h4.2M282.6 69.5v5.8M281.9 71.8h4.2M284.0 68.9v5.8M283.2 72.3h4.2M285.3 69.4v5.8M284.6 72.6h4.2M286.7 69.7v5.8M285.9 73.7h4.2M288.0 70.8v5.8M287.2 74.3h4.2M289.3 71.4v5.8M288.6 73.7h4.2M290.7 70.8v5.8M289.9 74.0h4.2M292.0 71.1v5.8M291.3 74.0h4.2M293.4 71.1v5.8M292.6 73.6h4.2M294.7 70.7v5.8M293.9 73.3h4.2M296.0 70.4v5.8M295.1 72.7h4.2M297.2 69.8v5.8M296.2 71.4h4.2M298.3 68.5v5.8M297.3 70.2h4.2M299.4 67.3v5.8M298.3 69.8h4.2M300.4 66.9v5.8M299.2 68.7h4.2M301.3 65.8v5.8M300.2 68.0h4.2M302.3 65.1v5.8M301.1 67.5h4.2M303.2 64.6v5.8M302.1 66.0h4.2M304.2 63.1v5.8M303.0 64.7h4.2M305.1 61.8v5.8M303.9 63.8h4.2M306.0 60.9v5.8M304.9 62.9h4.2M307.0 60.0v5.8M305.9 61.0h4.2M308.0 58.1v5.8M306.8 61.2h4.2M308.9 58.3v5.8M307.8 60.1h4.2M309.9 57.2v5.8M309.0 59.4h4.2M311.1 56.5v5.8M310.3 58.9h4.2M312.4 56.0v5.8M311.7 58.5h4.2M313.8 55.6v5.8M313.0 58.9h4.2M315.1 56.0v5.8M314.3 59.0h4.2M316.4 56.1v5.8M315.5 60.5h4.2M317.6 57.6v5.8M316.7 60.3h4.2M318.8 57.4v5.8M318.0 60.9h4.2M320.1 58.0v5.8M319.4 61.3h4.2M321.5 58.4v5.8M320.8 61.4h4.2M322.9 58.5v5.8M322.2 61.7h4.2M324.3 58.8v5.8M323.6 61.2h4.2M325.7 58.3v5.8M325.0 60.8h4.2M327.1 57.9v5.8M326.3 60.9h4.2M328.4 58.0v5.8M327.5 61.6h4.2M329.6 58.7v5.8M328.4 63.0h4.2M330.5 60.1v5.8M329.2 63.7h4.2M331.3 60.8v5.8M329.8 66.2h4.2M331.9 63.3v5.8M330.3 67.1h4.2M332.4 64.2v5.8M330.8 67.8h4.2M332.9 64.9v5.8M331.2 69.3h4.2M333.3 66.4v5.8M331.6 70.7h4.2M333.7 67.8v5.8M332.0 72.1h4.2M334.1 69.2v5.8M332.3 73.1h4.2M334.4 70.2v5.8M332.5 75.5h4.2M334.6 72.6v5.8M332.8 77.1h4.2M334.9 74.2v5.8M333.0 77.8h4.2M335.1 74.9v5.8M333.2 79.2h4.2M335.3 76.3v5.8M333.5 80.0h4.2M335.6 77.1v5.8M333.7 81.4h4.2M335.8 78.5v5.8M333.9 83.1h4.2M336.0 80.2v5.8M334.2 84.4h4.2M336.3 81.5v5.8M334.5 86.5h4.2M336.6 83.6v5.8M334.7 87.0h4.2M336.8 84.1v5.8M335.0 88.2h4.2M337.1 85.3v5.8M335.2 90.8h4.2M337.3 87.9v5.8M335.5 91.6h4.2M337.6 88.7v5.8M335.7 92.5h4.2M337.8 89.6v5.8M336.0 94.4h4.2M338.1 91.5v5.8M336.2 95.1h4.2M338.3 92.2v5.8M336.4 97.1h4.2M338.5 94.2v5.8M336.7 99.2h4.2M338.8 96.3v5.8M336.9 100.4h4.2M339.0 97.5v5.8M337.1 101.5h4.2M339.2 98.6v5.8M337.4 102.3h4.2M339.5 99.4v5.8M337.6 103.8h4.2M339.7 100.9v5.8M337.8 104.9h4.2M339.9 102.0v5.8M338.0 107.2h4.2M340.1 104.3v5.8M338.2 108.2h4.2M340.3 105.3v5.8M338.4 109.9h4.2M340.5 107.0v5.8M338.7 110.7h4.2M340.8 107.8v5.8M338.9 111.9h4.2M341.0 109.0v5.8M339.1 114.1h4.2M341.2 111.2v5.8M339.3 115.8h4.2M341.4 112.9v5.8M339.5 117.0h4.2M341.6 114.1v5.8M339.8 118.3h4.2M341.9 115.4v5.8M340.0 119.7h4.2M342.1 116.8v5.8M340.3 120.9h4.2M342.4 118.0v5.8" stroke="#000" stroke-width="1.3" fill="none"/>
<polyline points="346.0,106.5 346.0,106.4 346.1,106.2 346.2,105.9 346.3,105.5 346.5,105.0 346.6,104.5 346.8,103.9 347.0,103.3 347.2,102.8 347.3,102.2 347.5,101.2 347.8,100.1 348.0,99.0 348.3,97.7 348.5,96.4 348.8,95.1 349.0,93.8 349.3,92.5 349.5,91.2 349.8,90.0 350.0,88.9 350.3,87.9 350.6,86.9 350.8,85.8 351.1,84.8 351.3,83.8 351.6,82.8 351.8,81.9 352.1,80.9 352.3,80.0 352.5,79.3 352.6,78.5 352.8,77.8 352.9,77.1 353.0,76.4 353.2,75.8 353.3,75.1 353.5,74.4 353.7,73.7 353.9,73.0 354.2,72.2 354.4,71.4 354.7,70.6 355.1,69.8" stroke="#000" stroke-width="2.2" fill="none" stroke-linejoin="round" stroke-linecap="round"/>
<polyline points="355.1,69.8 355.4,69.0 355.7,68.2 356.1,67.4 356.5,66.7 356.9,65.9 357.3,65.2 357.7,64.5 358.1,63.8 358.6,63.1 359.1,62.5 359.6,61.8 360.0,61.2 360.5,60.6 361.0,60.0 361.5,59.5 362.0,59.0 362.4,58.7 362.7,58.4 363.1,58.2 363.4,57.9 363.8,57.7 364.1,57.5 364.5,57.3 364.9,57.1 365.2,56.9 365.6,56.7 366.0,56.4 366.3,56.2 366.7,55.9 367.1,55.6 367.5,55.3 367.8,55.0 368.2,54.7 368.6,54.5 369.0,54.4 369.4,54.3 369.8,54.3 370.2,54.4 370.7,54.5 371.1,54.7 371.6,54.9 372.0,55.1 372.5,55.4 372.9,55.6 373.4,55.8 373.8,56.0 374.2,56.2 374.6,56.3 375.1,56.5 375.5,56.7 375.9,56.8 376.3,57.0 376.7,57.1 377.2,57.2 377.6,57.3 378.0,57.4 378.4,57.5 378.8,57.5 379.2,57.6 379.5,57.6 379.9,57.6 380.3,57.6 380.7,57.6 381.1,57.5 381.4,57.4 381.8,57.3 382.2,57.1 382.6,56.9 383.0,56.6 383.4,56.2 383.8,55.9 384.1,55.5 384.5,55.1 384.9,54.7 385.3,54.3 385.7,53.9 386.2,53.5 386.6,53.0 387.1,52.6 387.6,52.1 388.0,51.6 388.5,51.1 389.0,50.6 389.5,50.2 389.9,49.7 390.4,49.3 390.8,48.9 391.3,48.5 391.7,48.1 392.1,47.7 392.6,47.4 393.0,47.0 393.4,46.7 393.8,46.4 394.2,46.1 394.6,45.9 394.9,45.8 395.1,45.7 395.3,45.6 395.6,45.5 395.8,45.5 396.0,45.5 396.3,45.4 396.5,45.4 396.7,45.4 397.0,45.4 397.3,45.4 397.7,45.5 398.0,45.5 398.4,45.6 398.8,45.7 399.2,45.8 399.5,45.9 399.9,46.0 400.3,46.2 400.7,46.3 401.2,46.5 401.6,46.7 402.1,47.0 402.6,47.2 403.1,47.5 403.6,47.8 404.1,48.0 404.5,48.3 405.0,48.5 405.5,48.7 405.9,48.9 406.3,49.0 406.7,49.2 407.2,49.3 407.6,49.4 408.0,49.5 408.4,49.6 408.8,49.6 409.2,49.6 409.6,49.6 410.0,49.5 410.5,49.3 410.9,49.1 411.3,48.9 411.7,48.6 412.1,48.3 412.5,48.0 412.9,47.7 413.4,47.4 413.8,47.1 414.3,46.8 414.7,46.6 415.2,46.3 415.6,46.0 416.1,45.7 416.6,45.4 417.0,45.2 417.5,44.9 418.0,44.6 418.5,44.4 419.0,44.1 419.5,43.9 420.1,43.6 420.6,43.3 421.1,43.1 421.7,42.8 422.2,42.6 422.8,42.5 423.3,42.4 423.8,42.3 424.3,42.3 424.7,42.3 425.2,42.4 425.6,42.5 426.1,42.7 426.5,42.8 427.0,43.0 427.4,43.1 427.9,43.3 428.3,43.5 428.7,43.7 429.2,43.9 429.6,44.1 430.1,44.3 430.5,44.5 430.9,44.8 431.4,45.0 431.8,45.3 432.3,45.5 432.7,45.8 433.2,46.1 433.6,46.4 434.1,46.8 434.6,47.1 435.1,47.5 435.5,47.8 436.0,48.1 436.5,48.4 437.0,48.7 437.5,48.9 438.0,49.1 438.4,49.2 438.9,49.3 439.4,49.4 439.9,49.5 440.4,49.6 440.8,49.6 441.3,49.6 441.8,49.6 442.2,49.5 442.6,49.4 443.0,49.3 443.3,49.2 443.7,49.0 444.0,48.8 444.4,48.6 444.7,48.4 445.1,48.2 445.4,47.9 445.8,47.7 446.3,47.4 446.7,47.1 447.2,46.7 447.6,46.4 448.1,46.0 448.6,45.6 449.1,45.3 449.5,44.9 450.0,44.6 450.5,44.3 451.0,44.0 451.4,43.7 451.9,43.4 452.4,43.2 452.9,42.9 453.4,42.7 453.9,42.5 454.3,42.3 454.8,42.2 455.3,42.2 455.8,42.3 456.3,42.4 456.7,42.6 457.2,42.9 457.7,43.2 458.2,43.5 458.6,43.8 459.1,44.1 459.6,44.4 460.0,44.6 460.3,44.8 460.7,45.0 461.0,45.1 461.3,45.3 461.6,45.5 462.0,45.7 462.3,45.8 462.6,45.9 462.9,46.0 463.3,46.0 463.7,46.0 464.2,45.9 464.7,45.7 465.2,45.5 465.7,45.3 466.1,45.0 466.6,44.8 467.1,44.5 467.6,44.2 468.1,44.0 468.6,43.7 469.1,43.4 469.6,43.1 470.1,42.8 470.5,42.4 471.0,42.1 471.5,41.9 471.9,41.7 472.4,41.5 472.8,41.5 473.1,41.5 473.4,41.6 473.7,41.7 474.0,41.9 474.3,42.1 474.6,42.3 474.9,42.5 475.1,42.8 475.4,43.0 475.6,43.3 475.9,43.6 476.1,44.0 476.4,44.5 476.6,44.9 476.9,45.4 477.1,45.9 477.3,46.3" stroke="#000" stroke-width="3.3" fill="none" stroke-linejoin="round" stroke-linecap="round"/>
<polyline points="477.3,46.3 477.5,46.8 477.6,47.3 477.8,47.8 477.9,48.3 478.1,48.7 478.2,49.2 478.3,49.7 478.4,50.1 478.5,50.6 478.5,51.1 478.6,51.6 478.7,52.0 478.8,52.5 478.9,52.9 479.0,53.4 479.1,53.8 479.2,54.2 479.3,54.7 479.3,55.1 479.4,55.5 479.5,56.0 479.6,56.5 479.7,57.0 479.8,57.8 480.0,58.6 480.1,59.5 480.2,60.5 480.4,61.4 480.5,62.4 480.6,63.3 480.8,64.3 480.9,65.2 481.0,66.0 481.1,66.7 481.2,67.3 481.2,67.9 481.3,68.5 481.4,69.1 481.5,69.7 481.5,70.3 481.6,70.9 481.7,71.6 481.8,72.3 481.9,73.4 482.1,74.5 482.3,75.7 482.4,77.0 482.6,78.2 482.8,79.5 482.9,80.9 483.1,82.2 483.3,83.4 483.5,84.7 483.7,85.9 483.9,87.2 484.1,88.4 484.3,89.7 484.5,90.9 484.7,92.2 484.9,93.4 485.1,94.6 485.3,95.8 485.5,97.0 485.7,98.1 485.9,99.4 486.1,100.7 486.3,102.0 486.6,103.3 486.8,104.5 486.9,105.5 487.1,106.3 487.2,106.8 487.2,107.0" stroke="#000" stroke-width="2.2" fill="none" stroke-linejoin="round" stroke-linecap="round"/>
<path d="M343.9 106.3h4.2M346.0 103.4v5.8M344.3 104.7h4.2M346.4 101.8v5.8M344.7 104.0h4.2M346.8 101.1v5.8M345.1 101.9h4.2M347.2 99.0v5.8M345.5 101.2h4.2M347.6 98.3v5.8M345.7 99.6h4.2M347.8 96.7v5.8M346.0 97.8h4.2M348.1 94.9v5.8M346.3 97.0h4.2M348.4 94.1v5.8M346.6 95.0h4.2M348.7 92.1v5.8M346.8 94.2h4.2M348.9 91.3v5.8M347.1 92.3h4.2M349.2 89.4v5.8M347.4 90.9h4.2M349.5 88.0v5.8M347.7 90.0h4.2M349.8 87.1v5.8M348.0 89.2h4.2M350.1 86.3v5.8M348.3 86.9h4.2M350.4 84.0v5.8M348.7 85.7h4.2M350.8 82.8v5.8M349.0 84.9h4.2M351.1 82.0v5.8M349.4 84.0h4.2M351.5 81.1v5.8M349.7 82.1h4.2M351.8 79.2v5.8M350.0 80.5h4.2M352.1 77.6v5.8M350.4 79.9h4.2M352.5 77.0v5.8M350.6 77.3h4.2M352.7 74.4v5.8M350.9 77.0h4.2M353.0 74.1v5.8M351.2 74.9h4.2M353.3 72.0v5.8M351.6 73.3h4.2M353.7 70.4v5.8M352.0 71.9h4.2M354.1 69.0v5.8M352.4 70.9h4.2M354.5 68.0v5.8M353.0 70.3h4.2M355.1 67.4v5.8M353.5 68.1h4.2M355.6 65.2v5.8M354.1 67.4h4.2M356.2 64.5v5.8M354.7 66.2h4.2M356.8 63.3v5.8M355.4 64.6h4.2M357.5 61.7v5.8M356.2 63.7h4.2M358.3 60.8v5.8M357.0 61.9h4.2M359.1 59.0v5.8M357.8 60.7h4.2M359.9 57.8v5.8M358.7 59.9h4.2M360.8 57.0v5.8M359.6 59.5h4.2M361.7 56.6v5.8M360.7 58.3h4.2M362.8 55.4v5.8M361.9 57.4h4.2M364.0 54.5v5.8M363.1 57.1h4.2M365.2 54.2v5.8M364.3 56.1h4.2M366.4 53.2v5.8M365.4 55.0h4.2M367.5 52.1v5.8M366.5 54.9h4.2M368.6 52.0v5.8M367.9 54.6h4.2M370.0 51.7v5.8M369.2 54.4h4.2M371.3 51.5v5.8M370.5 55.5h4.2M372.6 52.6v5.8M371.7 56.0h4.2M373.8 53.1v5.8M373.0 57.0h4.2M375.1 54.1v5.8M374.4 57.3h4.2M376.5 54.4v5.8M375.7 57.1h4.2M377.8 54.2v5.8M377.1 58.2h4.2M379.2 55.3v5.8M378.5 57.0h4.2M380.6 54.1v5.8M379.8 57.1h4.2M381.9 54.2v5.8M381.0 56.8h4.2M383.1 53.9v5.8M382.0 55.0h4.2M384.1 52.1v5.8M383.0 54.5h4.2M385.1 51.6v5.8M384.0 52.9h4.2M386.1 50.0v5.8M385.0 52.8h4.2M387.1 49.9v5.8M386.0 51.9h4.2M388.1 49.0v5.8M387.0 50.7h4.2M389.1 47.8v5.8M388.0 50.1h4.2M390.1 47.2v5.8M389.0 48.4h4.2M391.1 45.5v5.8M390.1 48.0h4.2M392.2 45.1v5.8M391.1 46.9h4.2M393.2 44.0v5.8M392.3 46.1h4.2M394.4 43.2v5.8M393.6 45.5h4.2M395.7 42.6v5.8M395.0 45.9h4.2M397.1 43.0v5.8M396.4 46.2h4.2M398.5 43.3v5.8M397.7 45.9h4.2M399.8 43.0v5.8M399.0 46.7h4.2M401.1 43.8v5.8M400.3 46.5h4.2M402.4 43.6v5.8M401.5 48.1h4.2M403.6 45.2v5.8M402.7 48.6h4.2M404.8 45.7v5.8M404.0 49.6h4.2M406.1 46.7v5.8M405.4 49.8h4.2M407.5 46.9v5.8M406.7 49.3h4.2M408.8 46.4v5.8M408.1 49.3h4.2M410.2 46.4v5.8M409.3 49.0h4.2M411.4 46.1v5.8M410.5 47.3h4.2M412.6 44.4v5.8M411.6 47.1h4.2M413.7 44.2v5.8M412.8 46.0h4.2M414.9 43.1v5.8M414.0 45.2h4.2M416.1 42.3v5.8M415.2 44.4h4.2M417.3 41.5v5.8M416.5 44.7h4.2M418.6 41.8v5.8M417.7 43.2h4.2M419.8 40.3v5.8M419.0 42.8h4.2M421.1 39.9v5.8M420.3 42.4h4.2M422.4 39.5v5.8M421.6 42.8h4.2M423.7 39.9v5.8M423.0 41.8h4.2M425.1 38.9v5.8M424.4 42.7h4.2M426.5 39.8v5.8M425.7 43.4h4.2M427.8 40.5v5.8M427.0 44.4h4.2M429.1 41.5v5.8M428.2 44.9h4.2M430.3 42.0v5.8M429.5 45.6h4.2M431.6 42.7v5.8M430.7 45.5h4.2M432.8 42.6v5.8M431.8 46.5h4.2M433.9 43.6v5.8M433.0 47.3h4.2M435.1 44.4v5.8M434.1 48.8h4.2M436.2 45.9v5.8M435.4 49.5h4.2M437.5 46.6v5.8M436.7 48.8h4.2M438.8 45.9v5.8M438.1 49.1h4.2M440.2 46.2v5.8M439.5 49.2h4.2M441.6 46.3v5.8M440.8 48.9h4.2M442.9 46.0v5.8M442.1 48.7h4.2M444.2 45.8v5.8M443.3 48.1h4.2M445.4 45.2v5.8M444.5 46.9h4.2M446.6 44.0v5.8M445.6 45.7h4.2M447.7 42.8v5.8M446.7 45.4h4.2M448.8 42.5v5.8M447.8 44.5h4.2M449.9 41.6v5.8M449.0 44.0h4.2M451.1 41.1v5.8M450.2 43.9h4.2M452.3 41.0v5.8M451.5 42.9h4.2M453.6 40.0v5.8M452.8 42.2h4.2M454.9 39.3v5.8M454.2 42.6h4.2M456.3 39.7v5.8M455.4 43.3h4.2M457.5 40.4v5.8M456.6 43.2h4.2M458.7 40.3v5.8M457.8 45.1h4.2M459.9 42.2v5.8M459.0 45.6h4.2M461.1 42.7v5.8M460.3 46.4h4.2M462.4 43.5v5.8M461.6 46.4h4.2M463.7 43.5v5.8M463.0 45.4h4.2M465.1 42.5v5.8M464.2 44.8h4.2M466.3 41.9v5.8M465.5 43.7h4.2M467.6 40.8v5.8M466.7 43.8h4.2M468.8 40.9v5.8M467.9 42.2h4.2M470.0 39.3v5.8M469.0 41.5h4.2M471.1 38.6v5.8M470.3 41.1h4.2M472.4 38.2v5.8M471.7 41.3h4.2M473.8 38.4v5.8M472.8 42.4h4.2M474.9 39.5v5.8M473.8 43.0h4.2M475.9 40.1v5.8M474.5 44.1h4.2M476.6 41.2v5.8M475.1 45.6h4.2M477.2 42.7v5.8M475.6 46.8h4.2M477.7 43.9v5.8M476.0 48.5h4.2M478.1 45.6v5.8M476.3 49.4h4.2M478.4 46.5v5.8M476.5 52.0h4.2M478.6 49.1v5.8M476.8 53.0h4.2M478.9 50.1v5.8M477.1 53.7h4.2M479.2 50.8v5.8M477.3 55.2h4.2M479.4 52.3v5.8M477.6 56.8h4.2M479.7 53.9v5.8M477.8 58.2h4.2M479.9 55.3v5.8M478.0 59.2h4.2M480.1 56.3v5.8M478.2 61.6h4.2M480.3 58.7v5.8M478.4 63.2h4.2M480.5 60.3v5.8M478.6 63.8h4.2M480.7 60.9v5.8M478.8 65.3h4.2M480.9 62.4v5.8M479.0 66.1h4.2M481.1 63.2v5.8M479.2 67.5h4.2M481.3 64.6v5.8M479.3 69.2h4.2M481.4 66.3v5.8M479.5 70.5h4.2M481.6 67.6v5.8M479.7 72.7h4.2M481.8 69.8v5.8M479.9 73.1h4.2M482.0 70.2v5.8M480.1 74.3h4.2M482.2 71.4v5.8M480.2 77.0h4.2M482.3 74.1v5.8M480.4 77.8h4.2M482.5 74.9v5.8M480.6 78.7h4.2M482.7 75.8v5.8M480.8 80.6h4.2M482.9 77.7v5.8M481.0 81.3h4.2M483.1 78.4v5.8M481.2 83.4h4.2M483.3 80.5v5.8M481.4 85.4h4.2M483.5 82.5v5.8M481.6 86.6h4.2M483.7 83.7v5.8M481.8 87.8h4.2M483.9 84.9v5.8M482.0 88.5h4.2M484.1 85.6v5.8M482.3 90.1h4.2M484.4 87.2v5.8M482.5 91.2h4.2M484.6 88.3v5.8M482.7 93.4h4.2M484.8 90.5v5.8M483.0 94.4h4.2M485.1 91.5v5.8M483.2 96.2h4.2M485.3 93.3v5.8M483.4 96.9h4.2M485.5 94.0v5.8M483.7 98.1h4.2M485.8 95.2v5.8M483.9 100.3h4.2M486.0 97.4v5.8M484.1 102.0h4.2M486.2 99.1v5.8M484.4 103.2h4.2M486.5 100.3v5.8M484.6 104.5h4.2M486.7 101.6v5.8M484.8 105.9h4.2M486.9 103.0v5.8M485.1 107.1h4.2M487.2 104.2v5.8" stroke="#000" stroke-width="1.3" fill="none"/>
<polyline points="490.5,88.0 490.5,87.9 490.6,87.8 490.7,87.6 490.9,87.3 491.0,86.9 491.2,86.5 491.4,86.1" stroke="#000" stroke-width="3.3" fill="none" stroke-linejoin="round" stroke-linecap="round"/>
<polyline points="491.4,86.1 491.6,85.6 491.8,85.2 491.9,84.7 492.1,83.8 492.3,82.7 492.5,81.6 492.7,80.3 492.9,79.0 493.1,77.6 493.3,76.3 493.5,74.9 493.7,73.6 494.0,72.3 494.3,71.0 494.6,69.8 494.9,68.4 495.3,67.1 495.6,65.8 496.0,64.6 496.3,63.3 496.7,62.1 496.9,61.0 497.2,60.0 497.3,59.4 497.5,58.8 497.6,58.3 497.7,57.8 497.7,57.3 497.8,56.8 497.9,56.3 498.0,55.7 498.2,55.2 498.3,54.6 498.5,53.7 498.8,52.8 499.1,51.8 499.4,50.8 499.7,49.7 500.0,48.7 500.3,47.7 500.7,46.7 501.0,45.8 501.3,45.0 501.5,44.5 501.7,44.0 501.9,43.5 502.1,43.0" stroke="#000" stroke-width="2.2" fill="none" stroke-linejoin="round" stroke-linecap="round"/>
<polyline points="502.1,43.0 502.3,42.5 502.5,42.1 502.7,41.7 502.9,41.3 503.2,40.9 503.5,40.5 503.8,40.1 504.2,39.8 504.6,39.4 505.0,39.1 505.4,38.8 505.9,38.5 506.3,38.2 506.8,38.0 507.2,37.7 507.7,37.5 508.2,37.3 508.6,37.1 509.1,36.9 509.6,36.7 510.1,36.5 510.7,36.4 511.2,36.2 511.7,36.1 512.2,36.0 512.7,36.0 513.2,36.0 513.7,36.0 514.2,36.1 514.7,36.2 515.1,36.3 515.6,36.4 516.1,36.5 516.6,36.7 517.1,36.7 517.6,36.8 518.1,36.8 518.6,36.9 519.1,36.9 519.6,36.9 520.1,37.0 520.6,37.0 521.1,37.0 521.6,36.9 522.1,36.9 522.6,36.8 523.1,36.7 523.6,36.6 524.1,36.4 524.6,36.2 525.1,36.0 525.5,35.8 526.0,35.6 526.5,35.4 527.0,35.2 527.5,35.0 528.0,34.8 528.5,34.6 529.1,34.4 529.6,34.2 530.1,34.0 530.6,33.9 531.1,33.7 531.6,33.5 532.0,33.4 532.4,33.3 532.6,33.3 532.8,33.2 532.9,33.2 533.0,33.2 533.2,33.2 533.3,33.1 533.5,33.1 533.6,33.1 533.8,33.1 534.0,33.1 534.4,33.1 534.9,33.0 535.5,33.0 536.1,33.0 536.7,33.0 537.4,32.9 538.0,32.9 538.7,32.9 539.3,33.0 539.9,33.0 540.5,33.1 541.1,33.1 541.7,33.2 542.3,33.3 542.9,33.4 543.5,33.5 544.1,33.6 544.7,33.7 545.2,33.9 545.8,34.1 546.3,34.3 546.8,34.6 547.3,34.9 547.8,35.2 548.3,35.5 548.7,35.8 549.2,36.1 549.7,36.4 550.1,36.7 550.6,36.9 551.0,37.1 551.4,37.3 551.8,37.4 552.2,37.6 552.6,37.8 553.1,37.9 553.5,38.0 553.9,38.1 554.3,38.1 554.7,38.1 555.2,38.0 555.7,37.9 556.1,37.7 556.6,37.5 557.1,37.2 557.6,36.9 558.1,36.6 558.6,36.3 559.1,36.0 559.5,35.7 559.9,35.4 560.4,35.0 560.8,34.6 561.2,34.3 561.6,33.9 562.0,33.4 562.4,33.0 562.8,32.6 563.2,32.3 563.6,31.9 564.0,31.6 564.3,31.2 564.7,30.9 565.1,30.5 565.4,30.2 565.8,29.9 566.1,29.6 566.5,29.3 566.8,29.1 567.2,28.9 567.5,28.8 567.7,28.7 568.0,28.6 568.3,28.5 568.6,28.5 568.8,28.5 569.1,28.4 569.4,28.5 569.7,28.5 570.0,28.5 570.4,28.6 570.9,28.7 571.4,28.9 571.9,29.2 572.4,29.4 572.9,29.7 573.4,29.9 574.0,30.2 574.5,30.4 575.0,30.6 575.5,30.8 576.0,30.9 576.5,31.0 577.0,31.1 577.6,31.2 578.1,31.4 578.6,31.5 579.1,31.6 579.6,31.8 580.1,32.0 580.6,32.2 581.1,32.5 581.7,32.8 582.2,33.1 582.7,33.4 583.2,33.8 583.7,34.1 584.2,34.5 584.7,34.8 585.2,35.2 585.7,35.6 586.3,36.0 586.8,36.5 587.3,37.0 587.9,37.5 588.4,38.0 588.9,38.4 589.4,38.8 589.9,39.2 590.4,39.5 590.7,39.7 591.1,39.9 591.4,40.1 591.7,40.2 592.0,40.3 592.3,40.5 592.6,40.6 592.9,40.6 593.3,40.7 593.6,40.7 594.0,40.7 594.4,40.6 594.9,40.4 595.3,40.2 595.8,40.0 596.3,39.8 596.7,39.6 597.2,39.4 597.6,39.2 598.0,39.0 598.3,38.9 598.6,38.7 599.0,38.6 599.3,38.4 599.6,38.2 599.9,38.1 600.1,38.0 600.4,37.9 600.7,37.9 601.0,37.9 601.3,38.0 601.6,38.1 601.9,38.3 602.2,38.5 602.5,38.7 602.7,39.0 603.0,39.3 603.3,39.6 603.5,39.9 603.8,40.2 604.1,40.6 604.4,41.0 604.6,41.4 604.9,41.9 605.1,42.3 605.4,42.8 605.6,43.3 605.9,43.8 606.1,44.3 606.3,44.8 606.5,45.4" stroke="#000" stroke-width="3.3" fill="none" stroke-linejoin="round" stroke-linecap="round"/>
<polyline points="606.5,45.4 606.8,46.1 607.1,46.8 607.3,47.6 607.6,48.3 607.8,49.0 608.0,49.6 608.2,50.1 608.3,50.4 608.3,50.5" stroke="#000" stroke-width="2.2" fill="none" stroke-linejoin="round" stroke-linecap="round"/>
<path d="M488.4 87.8h4.2M490.5 84.9v5.8M489.0 86.3h4.2M491.1 83.4v5.8M489.5 85.7h4.2M491.6 82.8v5.8M490.0 83.5h4.2M492.1 80.6v5.8M490.2 82.8h4.2M492.3 79.9v5.8M490.5 81.2h4.2M492.6 78.3v5.8M490.7 79.4h4.2M492.8 76.5v5.8M490.9 78.6h4.2M493.0 75.7v5.8M491.1 76.6h4.2M493.2 73.7v5.8M491.3 75.7h4.2M493.4 72.8v5.8M491.5 73.8h4.2M493.6 70.9v5.8M491.8 72.5h4.2M493.9 69.6v5.8M492.0 71.6h4.2M494.1 68.7v5.8M492.4 70.8h4.2M494.5 67.9v5.8M492.7 68.4h4.2M494.8 65.5v5.8M493.1 67.2h4.2M495.2 64.3v5.8M493.4 66.4h4.2M495.5 63.5v5.8M493.8 65.5h4.2M495.9 62.6v5.8M494.2 63.7h4.2M496.3 60.8v5.8M494.5 62.1h4.2M496.6 59.2v5.8M494.9 61.5h4.2M497.0 58.6v5.8M495.2 58.9h4.2M497.3 56.0v5.8M495.5 58.6h4.2M497.6 55.7v5.8M495.7 56.4h4.2M497.8 53.5v5.8M496.0 54.9h4.2M498.1 52.0v5.8M496.4 53.5h4.2M498.5 50.6v5.8M496.7 52.4h4.2M498.8 49.5v5.8M497.1 51.8h4.2M499.2 48.9v5.8M497.5 49.5h4.2M499.6 46.6v5.8M497.9 48.8h4.2M500.0 45.9v5.8M498.4 47.5h4.2M500.5 44.6v5.8M498.8 45.8h4.2M500.9 42.9v5.8M499.3 44.7h4.2M501.4 41.8v5.8M499.8 42.8h4.2M501.9 39.9v5.8M500.4 41.5h4.2M502.5 38.6v5.8M501.1 40.5h4.2M503.2 37.6v5.8M502.0 40.1h4.2M504.1 37.2v5.8M503.1 38.9h4.2M505.2 36.0v5.8M504.3 37.9h4.2M506.4 35.0v5.8M505.5 37.7h4.2M507.6 34.8v5.8M506.8 36.9h4.2M508.9 34.0v5.8M508.1 36.2h4.2M510.2 33.3v5.8M509.5 36.6h4.2M511.6 33.7v5.8M510.9 36.3h4.2M513.0 33.4v5.8M512.2 35.8h4.2M514.3 32.9v5.8M513.6 36.6h4.2M515.7 33.7v5.8M515.0 36.8h4.2M517.1 33.9v5.8M516.4 37.4h4.2M518.5 34.5v5.8M517.8 37.3h4.2M519.9 34.4v5.8M519.2 36.6h4.2M521.3 33.7v5.8M520.6 37.5h4.2M522.7 34.6v5.8M521.9 35.9h4.2M524.0 33.0v5.8M523.2 35.8h4.2M525.3 32.9v5.8M524.5 35.7h4.2M526.6 32.8v5.8M525.8 34.4h4.2M527.9 31.5v5.8M527.1 34.3h4.2M529.2 31.4v5.8M528.4 33.2h4.2M530.5 30.3v5.8M529.8 33.7h4.2M531.9 30.8v5.8M531.1 33.5h4.2M533.2 30.6v5.8M532.5 33.2h4.2M534.6 30.3v5.8M533.9 33.5h4.2M536.0 30.6v5.8M535.3 32.7h4.2M537.4 29.8v5.8M536.7 33.2h4.2M538.8 30.3v5.8M538.1 33.2h4.2M540.2 30.3v5.8M539.5 33.3h4.2M541.6 30.4v5.8M540.9 33.3h4.2M543.0 30.4v5.8M542.3 34.1h4.2M544.4 31.2v5.8M543.6 34.7h4.2M545.7 31.8v5.8M544.9 34.6h4.2M547.0 31.7v5.8M546.1 35.6h4.2M548.2 32.7v5.8M547.2 35.6h4.2M549.3 32.7v5.8M548.4 37.2h4.2M550.5 34.3v5.8M549.7 37.6h4.2M551.8 34.7v5.8M551.0 38.6h4.2M553.1 35.7v5.8M552.4 38.6h4.2M554.5 35.7v5.8M553.8 37.5h4.2M555.9 34.6v5.8M555.0 37.1h4.2M557.1 34.2v5.8M556.2 36.7h4.2M558.3 33.8v5.8M557.4 35.0h4.2M559.5 32.1v5.8M558.5 34.8h4.2M560.6 31.9v5.8M559.5 33.4h4.2M561.6 30.5v5.8M560.5 32.3h4.2M562.6 29.4v5.8M561.5 31.3h4.2M563.6 28.4v5.8M562.5 31.3h4.2M564.6 28.4v5.8M563.5 29.5h4.2M565.6 26.6v5.8M564.7 28.8h4.2M566.8 25.9v5.8M565.9 28.4h4.2M568.0 25.5v5.8M567.3 29.0h4.2M569.4 26.1v5.8M568.7 28.1h4.2M570.8 25.2v5.8M570.0 29.2h4.2M572.1 26.3v5.8M571.2 29.9h4.2M573.3 27.0v5.8M572.5 31.0h4.2M574.6 28.1v5.8M573.8 31.3h4.2M575.9 28.4v5.8M575.2 31.7h4.2M577.3 28.8v5.8M576.6 31.2h4.2M578.7 28.3v5.8M577.9 31.8h4.2M580.0 28.9v5.8M579.2 32.4h4.2M581.3 29.5v5.8M580.4 33.8h4.2M582.5 30.9v5.8M581.5 34.7h4.2M583.6 31.8v5.8M582.7 34.4h4.2M584.8 31.5v5.8M583.8 35.3h4.2M585.9 32.4v5.8M584.8 36.3h4.2M586.9 33.4v5.8M585.9 37.2h4.2M588.0 34.3v5.8M586.9 38.5h4.2M589.0 35.6v5.8M588.0 39.5h4.2M590.1 36.6v5.8M589.3 39.7h4.2M591.4 36.8v5.8M590.6 39.9h4.2M592.7 37.0v5.8M591.9 40.5h4.2M594.0 37.6v5.8M593.3 40.1h4.2M595.4 37.2v5.8M594.5 39.7h4.2M596.6 36.8v5.8M595.8 39.7h4.2M597.9 36.8v5.8M597.1 38.7h4.2M599.2 35.8v5.8M598.4 37.9h4.2M600.5 35.0v5.8M599.7 38.4h4.2M601.8 35.5v5.8M600.8 39.4h4.2M602.9 36.5v5.8M601.7 39.5h4.2M603.8 36.6v5.8M602.5 41.9h4.2M604.6 39.0v5.8M603.2 42.9h4.2M605.3 40.0v5.8M603.8 44.3h4.2M605.9 41.4v5.8M604.3 45.5h4.2M606.4 42.6v5.8M604.8 46.2h4.2M606.9 43.3v5.8M605.3 47.6h4.2M607.4 44.7v5.8M605.7 48.5h4.2M607.8 45.6v5.8M606.2 50.6h4.2M608.3 47.7v5.8" stroke="#000" stroke-width="1.3" fill="none"/>
<polyline points="608.3,50.5 608.3,50.7 608.5,51.2 608.6,51.9 608.9,52.9 609.1,54.0 609.4,55.1 609.6,56.3 609.9,57.5 610.1,58.6 610.3,59.6 610.4,60.4 610.6,61.2 610.7,62.0 610.8,62.7 610.8,63.5 610.9,64.2 611.0,65.0 611.1,65.8 611.2,66.6 611.3,67.5 611.4,68.6 611.6,69.7 611.7,70.8 611.8,71.9 611.9,73.1 612.1,74.3 612.2,75.5 612.3,76.8 612.5,78.1 612.6,79.4 612.8,81.2 613.0,83.1 613.2,85.0 613.4,86.9 613.6,88.9 613.8,91.0 614.0,93.1 614.2,95.4 614.4,97.6 614.6,100.0 614.8,103.4 615.0,107.0 615.2,110.8 615.3,114.7 615.5,118.7 615.6,122.8 615.8,127.0 615.9,131.3 616.1,135.6 616.3,140.0 616.6,145.5 616.9,151.2 617.2,157.1 617.6,163.2 618.0,169.3 618.3,175.5 618.7,181.7 619.1,187.9 619.5,194.0 619.8,200.0 620.1,205.9 620.5,212.0 620.8,218.2 621.1,224.3 621.5,230.5 621.8,236.5 622.1,242.3 622.4,247.8 622.7,253.1 623.0,258.0 623.2,261.1 623.3,264.0 623.5,266.8 623.6,269.4 623.8,272.0 623.9,274.5 624.1,277.0 624.2,279.5 624.4,282.0 624.6,284.6 624.8,287.1 625.0,289.7 625.3,292.3 625.6,294.9 625.8,297.5 626.1,300.0 626.3,302.4 626.6,304.8 626.8,307.0 627.0,309.0 627.1,310.2 627.2,311.4 627.3,312.5 627.4,313.6 627.5,314.6 627.6,315.6 627.7,316.6 627.8,317.6 627.9,318.7 628.0,319.8 628.2,321.2 628.4,322.6 628.6,324.1 628.8,325.6 629.0,327.2 629.2,328.7 629.5,330.2 629.7,331.7 630.0,333.2 630.2,334.6 630.4,335.9 630.6,337.2 630.9,338.6 631.1,339.9 631.3,341.3 631.5,342.5 631.8,343.7 632.0,344.8 632.2,345.7 632.4,346.5 632.5,346.8 632.6,347.1 632.7,347.4 632.8,347.6 632.9,347.9 633.0,348.1 633.1,348.2 633.1,348.4 633.2,348.5 633.2,348.5" stroke="#000" stroke-width="2.0" fill="none"/>
<path d="M606.3 50.5h4.0M606.9 53.2h4.0M607.6 56.0h4.0M608.1 58.7h4.0M608.6 61.5h4.0M608.9 64.2h4.0M609.2 67.0h4.0M609.6 69.8h4.0M609.9 72.6h4.0M610.2 75.4h4.0M610.5 78.2h4.0M610.8 80.9h4.0M611.1 83.7h4.0M611.4 86.5h4.0M611.7 89.3h4.0M611.9 92.1h4.0M612.2 94.9h4.0M612.4 97.7h4.0M612.6 100.4h4.0M612.8 103.2h4.0M613.0 106.0h4.0M613.1 108.8h4.0M613.2 111.6h4.0M613.3 114.4h4.0M613.4 117.2h4.0M613.5 120.0h4.0M613.6 122.8h4.0M613.7 125.6h4.0M613.8 128.4h4.0M613.9 131.2h4.0M614.0 134.0h4.0M614.2 136.8h4.0M614.3 139.6h4.0M614.4 142.4h4.0M614.6 145.2h4.0M614.7 148.0h4.0M614.9 150.8h4.0M615.0 153.6h4.0M615.2 156.4h4.0M615.4 159.2h4.0M615.5 162.0h4.0M615.7 164.8h4.0M615.9 167.6h4.0M616.0 170.4h4.0M616.2 173.2h4.0M616.4 176.0h4.0M616.5 178.7h4.0M616.7 181.5h4.0M616.9 184.3h4.0M617.0 187.1h4.0M617.2 189.9h4.0M617.4 192.7h4.0M617.5 195.5h4.0M617.7 198.3h4.0M617.9 201.1h4.0M618.0 203.9h4.0M618.2 206.7h4.0M618.3 209.5h4.0M618.5 212.3h4.0M618.6 215.1h4.0M618.8 217.9h4.0M618.9 220.7h4.0M619.1 223.5h4.0M619.2 226.3h4.0M619.4 229.1h4.0M619.6 231.9h4.0M619.7 234.7h4.0M619.9 237.5h4.0M620.0 240.2h4.0M620.2 243.0h4.0M620.3 245.8h4.0M620.5 248.6h4.0M620.6 251.4h4.0M620.8 254.2h4.0M620.9 257.0h4.0M621.1 259.8h4.0M621.3 262.6h4.0M621.4 265.4h4.0M621.6 268.2h4.0M621.7 271.0h4.0M621.9 273.8h4.0M622.0 276.6h4.0M622.2 279.4h4.0M622.4 282.2h4.0M622.6 285.0h4.0M622.9 287.8h4.0M623.1 290.5h4.0M623.4 293.3h4.0M623.7 296.1h4.0M624.0 298.9h4.0M624.3 301.7h4.0M624.5 304.5h4.0M624.8 307.3h4.0M625.1 310.0h4.0M625.3 312.8h4.0M625.6 315.6h4.0M625.8 318.4h4.0M626.2 321.2h4.0M626.5 324.0h4.0M627.0 326.7h4.0M627.4 329.5h4.0M627.8 332.3h4.0M628.3 335.0h4.0M628.7 337.8h4.0M629.2 340.6h4.0M629.7 343.3h4.0M630.3 346.1h4.0" stroke="#000" stroke-width="1.0" fill="none"/>
<path d="M50.3 52.7h4.4M52.5 50.5v4.4M50.3 78.5h4.4M52.5 76.3v4.4M50.3 80.5h4.4M52.5 78.3v4.4M50.3 86.0h4.4M52.5 83.8v4.4M50.3 91.8h4.4M52.5 89.6v4.4M50.3 97.2h4.4M52.5 95.0v4.4M50.3 107.3h4.4M52.5 105.1v4.4M50.3 116.2h4.4M52.5 114.0v4.4M50.3 120.2h4.4M52.5 118.0v4.4M195.6 56.2h4.4M197.8 54.0v4.4M195.6 81.5h4.4M197.8 79.3v4.4M195.6 84.6h4.4M197.8 82.4v4.4M195.6 87.7h4.4M197.8 85.5v4.4M195.6 95.7h4.4M197.8 93.5v4.4M195.6 106.3h4.4M197.8 104.1v4.4M195.6 115.6h4.4M197.8 113.4v4.4M195.6 125.2h4.4M197.8 123.0v4.4M340.8 29.9h4.4M343.0 27.7v4.4M340.8 54.6h4.4M343.0 52.4v4.4M340.8 58.3h4.4M343.0 56.1v4.4M340.8 63.9h4.4M343.0 61.7v4.4M340.8 71.3h4.4M343.0 69.1v4.4M340.8 79.4h4.4M343.0 77.2v4.4M340.8 86.8h4.4M343.0 84.6v4.4M486.2 20.8h4.4M488.4 18.6v4.4M631.3 236.3h4.4M633.5 234.1v4.4M631.3 289.8h4.4M633.5 287.6v4.4M74.7 80.8h4.4M76.9 78.6v4.4" stroke="#000" stroke-width="1.0" fill="none"/>
<path d="M486.6 51.3h3.6M488.4 49.5v3.6M486.6 54.3h3.6M488.4 52.5v3.6M486.6 58.7h3.6M488.4 56.9v3.6M486.6 63.6h3.6M488.4 61.8v3.6M486.6 67.6h3.6M488.4 65.8v3.6M486.6 70.6h3.6M488.4 68.8v3.6" stroke="#333" stroke-width="0.9" fill="none"/>
</g>
<g font-family='"Liberation Sans", sans-serif' font-weight="bold" fill="#000">
<text transform="translate(43.4,51.6) scale(1.1,1)" font-size="10.8" text-anchor="end">-2.0</text>
<text transform="translate(43.4,106.2) scale(1.1,1)" font-size="10.8" text-anchor="end">-2.2</text>
<text transform="translate(43.4,160.8) scale(1.1,1)" font-size="10.8" text-anchor="end">-2.4</text>
<text transform="translate(43.4,215.5) scale(1.1,1)" font-size="10.8" text-anchor="end">-2.6</text>
<text transform="translate(43.4,270.1) scale(1.1,1)" font-size="10.8" text-anchor="end">-2.8</text>
<text transform="translate(43.4,324.7) scale(1.1,1)" font-size="10.8" text-anchor="end">-3.0</text>
<text x="41.9" y="375.1" font-size="10.8" letter-spacing="0.45" text-anchor="middle">35500</text>
<text x="98.7" y="375.1" font-size="10.8" letter-spacing="0.45" text-anchor="middle">35550</text>
<text x="155.5" y="375.1" font-size="10.8" letter-spacing="0.45" text-anchor="middle">35600</text>
<text x="212.3" y="375.1" font-size="10.8" letter-spacing="0.45" text-anchor="middle">35650</text>
<text x="269.0" y="375.1" font-size="10.8" letter-spacing="0.45" text-anchor="middle">35700</text>
<text x="325.8" y="375.1" font-size="10.8" letter-spacing="0.45" text-anchor="middle">35750</text>
<text x="382.6" y="375.1" font-size="10.8" letter-spacing="0.45" text-anchor="middle">35800</text>
<text x="439.4" y="375.1" font-size="10.8" letter-spacing="0.45" text-anchor="middle">35850</text>
<text x="496.2" y="375.1" font-size="10.8" letter-spacing="0.45" text-anchor="middle">35900</text>
<text x="552.9" y="375.1" font-size="10.8" letter-spacing="0.45" text-anchor="middle">35950</text>
<text x="609.7" y="375.1" font-size="10.8" letter-spacing="0.45" text-anchor="middle">36000</text>
<text x="131.9" y="387.2" font-size="11" letter-spacing="0.38" text-anchor="middle">FREQ MHz</text>
<text transform="translate(60.6,352.0) scale(0.965,1)" font-size="12">IF 5(I)</text>
<text x="277.4" y="387.2" font-size="11" letter-spacing="0.38" text-anchor="middle">FREQ MHz</text>
<text transform="translate(205.6,352.0) scale(0.965,1)" font-size="12">IF 6(I)</text>
<text x="422.7" y="387.2" font-size="11" letter-spacing="0.38" text-anchor="middle">FREQ MHz</text>
<text transform="translate(351.5,352.0) scale(0.965,1)" font-size="12">IF 7(I)</text>
<text x="567.7" y="387.2" font-size="11" letter-spacing="0.38" text-anchor="middle">FREQ MHz</text>
<text transform="translate(496.0,352.0) scale(0.965,1)" font-size="12">IF 8(I)</text>
<text x="52" y="398.8" font-size="11" letter-spacing="0.38">Scalar averaged cross-power spectrum</text>
<text x="284" y="398.8" font-size="11" letter-spacing="0.38">Several baselines averaged</text>
<text transform="translate(17.6,179.2) rotate(-90)" font-size="11" letter-spacing="0.38" text-anchor="middle">Log10(Amp) Jy</text>
</g>
</svg>
</div></body></html>
